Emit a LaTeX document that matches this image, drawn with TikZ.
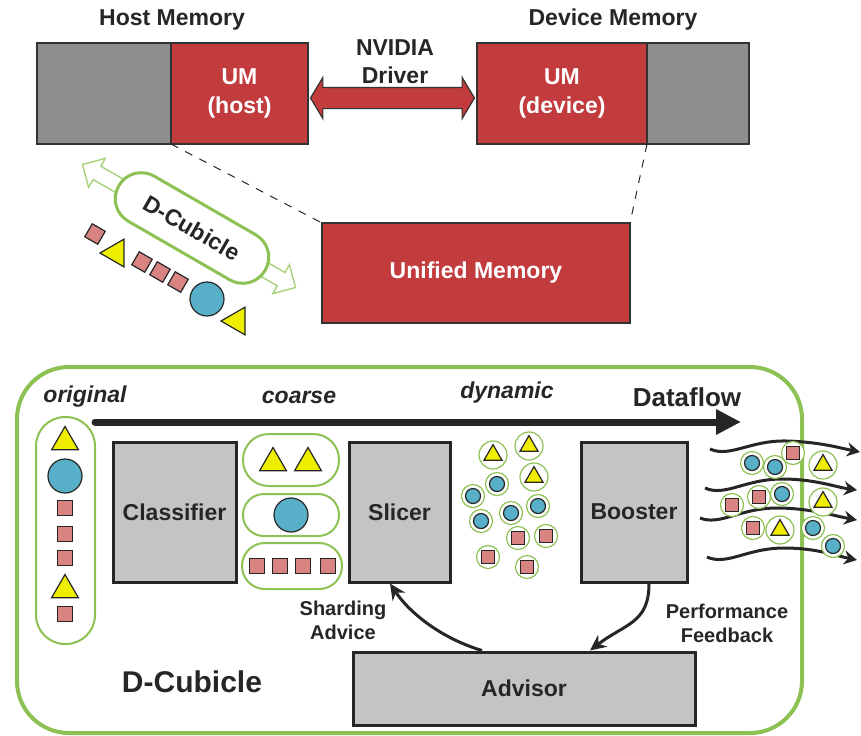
\documentclass[tikz,border=0pt]{standalone}
\usepackage{fontspec}
\setmainfont{Liberation Sans}
\usepackage{xcolor}
\usetikzlibrary{shapes.geometric,shapes.arrows,arrows.meta,positioning,calc}

\definecolor{umred}{RGB}{194,59,61}
\definecolor{memgray}{RGB}{143,142,143}
\definecolor{stagegray}{RGB}{196,196,196}
\definecolor{cubgreen}{RGB}{141,193,83}
\definecolor{lightgreen}{RGB}{166,210,122}
\definecolor{sqpink}{RGB}{217,131,131}
\definecolor{triyellow}{RGB}{240,238,0}
\definecolor{ballblue}{RGB}{87,176,200}

\begin{document}
\begin{tikzpicture}[
    x=0.5pt, y=-0.5pt,
    title/.style={font=\fontsize{11.5}{14}\selectfont\bfseries, text=black!85, align=center},
    membox/.style={rectangle, draw=black!80, line width=0.6pt, minimum height=50.5pt, inner sep=0pt, outer sep=0pt},
    umbox/.style={membox, fill=umred, text=white, font=\fontsize{11.5}{14.5}\selectfont\bfseries, align=center},
    graybox/.style={membox, fill=memgray},
    stage/.style={rectangle, draw=black!85, line width=1.5pt, fill=stagegray, font=\fontsize{11.5}{14}\selectfont\bfseries, text=black!85},
    pill/.style={rectangle, draw=cubgreen, line width=1pt, fill=white},
    sq/.style={rectangle, draw=black!85, line width=0.6pt, fill=sqpink, minimum size=7.5pt, inner sep=0pt},
    tri/.style={regular polygon, regular polygon sides=3, draw=black!85, line width=0.6pt, fill=triyellow, minimum size=15.5pt, inner sep=0pt},
    ball/.style={circle, draw=black!85, line width=0.6pt, fill=ballblue, minimum size=17pt, inner sep=0pt},
    ring/.style={circle, draw=cubgreen, line width=0.6pt, fill=white, minimum size=11.5pt, inner sep=0pt},
    rball/.style={ring, label={[ball, minimum size=7.5pt]center:{}}},
    rsq/.style={ring, label={[sq, minimum size=6.5pt]center:{}}},
    rtri/.style={ring, minimum size=14pt, label={[tri, minimum size=10.4pt]center:{}}},
    flowlbl/.style={font=\fontsize{11.5}{14}\selectfont\bfseries\itshape, text=black!85},
    note/.style={font=\fontsize{10}{12}\selectfont\bfseries, text=black!85, align=center},
    wave/.style={line width=1.5pt, black!85, -{Stealth[length=6.5pt,width=7pt]}},
    feed/.style={line width=1.5pt, black!85, -{Stealth[length=8pt,width=7.5pt]}}
]
\useasboundingbox (0,0) rectangle (861,735);

% Memory
\node[graybox, minimum width=67pt] (hostgray) at (104,93.5) {};
\node[umbox, minimum width=68.5pt, right=0pt of hostgray] (umhost) {UM\\(host)};
\node[umbox, minimum width=85pt] (umdev) at (562,93.5) {UM\\(device)};
\node[graybox, minimum width=51pt, right=0pt of umdev] (devgray) {};
\node[umbox, minimum width=154pt, minimum height=50pt] (unified) at (476,273) {Unified Memory};

\node[title] (hostlbl) at (172,20) {Host Memory};
\node[title] (devlbl) at (613,20) {Device Memory};
\node[title] (drvlbl) at (395,62) {NVIDIA\\Driver};

\node[double arrow, draw=black!80, line width=0.6pt, fill=umred, minimum height=82pt,
      inner sep=5pt, double arrow head extend=5pt, double arrow tip angle=118, yshift=-2.25pt]
      (driver) at ($(umhost.east)!0.5!(umdev.west)$) {};

\draw[dash pattern=on 4pt off 4pt, line width=0.5pt, black!85] (umhost.south west) -- (unified.north west);
\draw[dash pattern=on 4pt off 4pt, line width=0.5pt, black!85] (umdev.south east) -- (unified.north east);

% D-Cubicle moving
\node[double arrow, rotate=-30, draw=lightgreen, line width=0.7pt, fill=white, minimum height=123pt,
      inner sep=3.5pt, double arrow head extend=4.5pt] (migrate) at (189,226) {};
\node[pill, rotate=-30, line width=1.5pt, minimum width=84.5pt, minimum height=26pt, rounded corners=12.9pt,
      font=\fontsize{11.5}{14}\selectfont\bfseries, text=black!85] (cubpill) at (192,228) {D-Cubicle};

\node[sq, rotate=-30] (p1) at (95,234) {};
\node[tri, rotate=-30, minimum size=16pt] (p2) at (116,253) {};
\node[sq, rotate=-30] (p3) at (142,262) {};
\node[sq, rotate=-30] (p4) at (160,272) {};
\node[sq, rotate=-30] (p5) at (178,282) {};
\node[ball] (p6) at (207,299) {};
\node[tri, rotate=-30, minimum size=16pt] (p7) at (237,321) {};

% D-Cubicle
\node[rectangle, draw=cubgreen, line width=2pt, rounded corners=26pt, minimum width=392.5pt, minimum height=183pt] (cubicle) at (409.5,550) {};
\node[font=\fontsize{15}{18}\selectfont\bfseries, text=black!85] (cublbl) at (192,682) {D-Cubicle};

\node[flowlbl] (origlbl) at (85,397) {original};
\node[flowlbl] (coarselbl) at (299,397) {coarse};
\node[flowlbl] (dynlbl) at (507,393) {dynamic};
\node[font=\fontsize{13}{16}\selectfont\bfseries, text=black!85] (flowlbl) at (687,397) {Dataflow};

\coordinate (flowstart) at (95,422);
\coordinate (flowend) at (741,422);
\draw[line width=3.5pt, black!85, line cap=round, -{Triangle[length=12.5pt,width=12pt]}] (flowstart) -- (flowend);

% original
\node[pill, minimum width=29.5pt, minimum height=113.5pt, rounded corners=14.5pt] (origpill) at (65.5,530.5) {};
\node[tri] (o1) at (65,442) {};
\node[ball] (o2) at (65,476) {};
\node[sq] (o3) at (65,508) {};
\node[sq] (o4) at (65,534) {};
\node[sq] (o5) at (65,558) {};
\node[tri] (o6) at (65,590) {};
\node[sq] (o7) at (65,614) {};

% stages
\node[stage, minimum width=61.5pt, minimum height=70pt] (classifier) at (174.5,512) {Classifier};
\node[stage, minimum width=50.5pt, minimum height=70pt] (slicer) at (399.5,512) {Slicer};
\node[stage, minimum width=53pt, minimum height=70pt] (booster) at (634,512) {Booster};
\node[stage, minimum width=171pt, minimum height=36.5pt] (advisor) at (524,688.5) {Advisor};

% coarse
\node[pill, minimum width=48pt, minimum height=26pt, rounded corners=12.8pt] (grptri) at (291,460) {};
\node[pill, minimum width=48pt, minimum height=21pt, rounded corners=10.4pt] (grpball) at (291,515) {};
\node[pill, minimum width=50pt, minimum height=23pt, rounded corners=11.4pt] (grpsq) at (292,566) {};
\node[tri] (c1) at (273,463) {};
\node[tri] (c2) at (308,463) {};
\node[ball] (c3) at (291,515) {};
\node[sq] (c4) at (257,566) {};
\node[sq] (c5) at (280,566) {};
\node[sq] (c6) at (303,566) {};
\node[sq] (c7) at (328,566) {};

% dynamic
\node[rtri] (d1) at (493,455) {};
\node[rtri] (d2) at (529,446) {};
\node[rtri] (d3) at (534,477) {};
\node[rball] (d4) at (497,484) {};
\node[rball] (d5) at (473,496) {};
\node[rball] (d6) at (511,513) {};
\node[rball] (d7) at (538,506) {};
\node[rball] (d8) at (481,521) {};
\node[rsq] (d9) at (518,538) {};
\node[rsq] (d10) at (546,536) {};
\node[rsq] (d11) at (488,557) {};
\node[rsq] (d12) at (527,567) {};

% Feedback loop
\draw[feed] ($(booster.south)+(15,0)$) .. controls +(0,40) and +(35,-27) .. ($(advisor.north)+(66,0)$);
\draw[feed] ($(advisor.north)+(-42,0)$) .. controls +(-40,-12) and +(20,30) .. ($(slicer.south)+(-9.5,0)$);
\node[note] (shardlbl) at (343,620) {Sharding\\Advice};
\node[note] (perflbl) at (727,623) {Performance\\Feedback};

% output streams
\coordinate (w1s) at (710,449); \coordinate (w1e) at (860,452);
\coordinate (w2s) at (705,488); \coordinate (w2e) at (857,490);
\coordinate (w3s) at (700,518); \coordinate (w3e) at (857,520);
\coordinate (w4s) at (707,557); \coordinate (w4e) at (857,560);
\draw[wave] (w1s) .. controls (730,458) and (750,440) .. (787,441) .. controls (820,442) and (840,448) .. (w1e);
\draw[wave] (w2s) .. controls (725,497) and (745,479) .. (782,479) .. controls (815,479) and (835,487) .. (w2e);
\draw[wave] (w3s) .. controls (720,526) and (740,508) .. (777,508) .. controls (810,508) and (835,516) .. (w3e);
\draw[wave] (w4s) .. controls (727,566) and (747,548) .. (784,548) .. controls (817,548) and (837,556) .. (w4e);

\node[rball] (f1) at (752,463) {};
\node[rball] (f2) at (775,467) {};
\node[rsq] (f3) at (793,453) {};
\node[rtri] (f4) at (823,465) {};
\node[rsq] (f5) at (732,505) {};
\node[rsq] (f6) at (759,497) {};
\node[rball] (f7) at (782,494) {};
\node[rtri] (f8) at (823,502) {};
\node[rsq] (f9) at (753,528) {};
\node[rtri] (f10) at (780,530) {};
\node[rball] (f11) at (813,528) {};
\node[rball] (f12) at (833,546) {};

\end{tikzpicture}
\end{document}
